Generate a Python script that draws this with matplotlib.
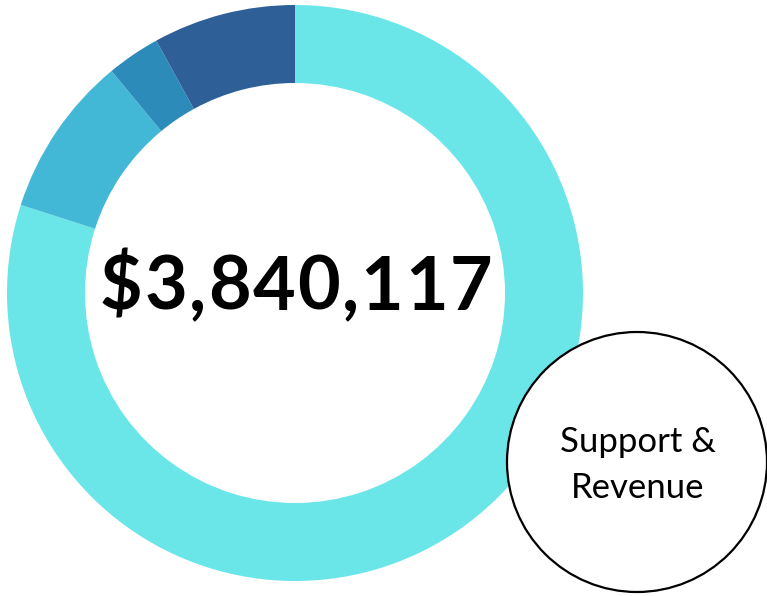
import matplotlib
matplotlib.use("Agg")
import matplotlib.pyplot as plt
from matplotlib.patches import Circle

# Support & revenue breakdown (values estimated from the ring)
categories = ["Contributions", "Grants", "Other", "Program Revenue"]
values = [3070000, 348000, 115000, 307117]
colors = ["#6ae6e8", "#42b8d6", "#2d8bba", "#2e5f97"]
total_label = "$3,840,117"
badge_label = "Support &\nRevenue"

W, H = 767, 596
fig = plt.figure(figsize=(W / 100, H / 100), dpi=100)
ax = fig.add_axes([0, 0, 1, 1])
ax.set_xlim(0, W)
ax.set_ylim(0, H)
ax.set_aspect("equal")
ax.axis("off")

# Donut ring, clockwise from 12 o'clock
ax.pie(values, colors=colors, startangle=90, counterclock=False,
       center=(295, 303), radius=288,
       wedgeprops=dict(width=78, edgecolor="none", linewidth=0))
ax.set_xlim(0, W)
ax.set_ylim(0, H)

# Total in the middle, drawn letter by letter for wide tracking
renderer = fig.canvas.get_renderer()
font = dict(fontsize=53, fontweight="bold", family="Lato", color="black")
glyphs = []
for ch in total_label:
    t = ax.text(0, 0, ch, ha="left", va="baseline", **font)
    glyphs.append((t, t.get_window_extent(renderer).width))
target_width = 392
gap = (target_width - sum(w for _, w in glyphs)) / (len(glyphs) - 1)
x = 100
for t, w in glyphs:
    t.set_position((x, 596 - 310))
    x += w + gap

# Badge circle at bottom right
badge = Circle((637, 134), 130, facecolor="white", edgecolor="black",
               linewidth=1.6, zorder=5)
ax.add_patch(badge)
ax.text(638, 131, badge_label, ha="center", va="center", fontsize=25,
        family="Lato", color="black", linespacing=1.55, zorder=6)

fig.savefig("out.png", dpi=100)
